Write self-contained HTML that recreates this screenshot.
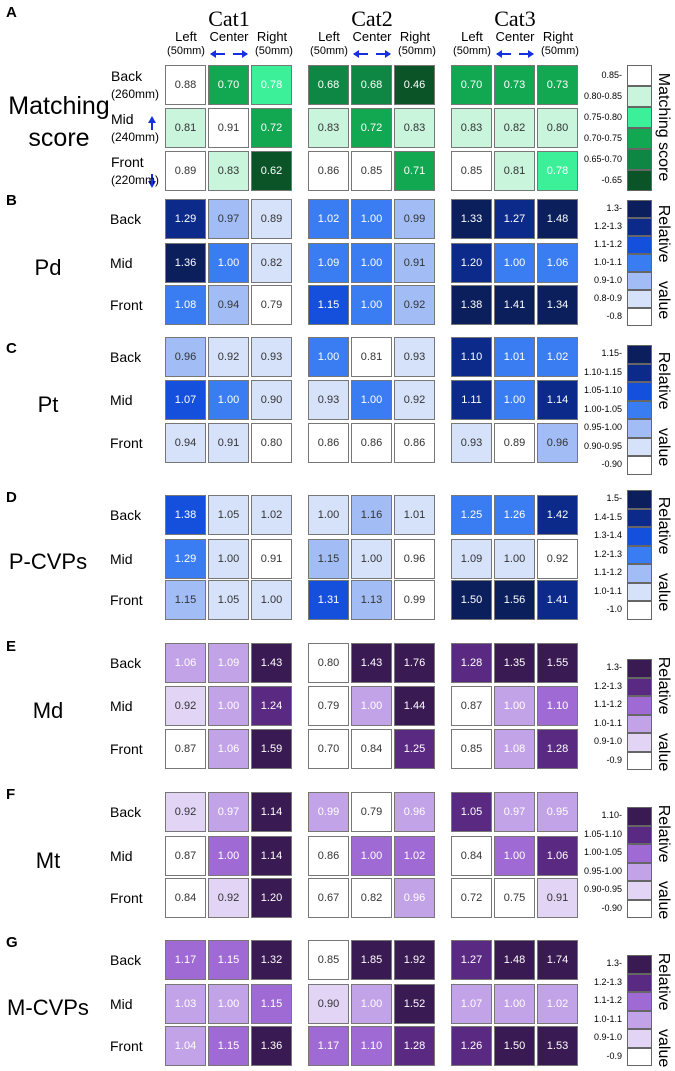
<!DOCTYPE html>
<html><head><meta charset="utf-8"><style>
body{margin:0;background:#fff;}
#c{position:relative;width:675px;height:1071px;font-family:"Liberation Sans",sans-serif;overflow:hidden;}
.a{position:absolute;}
.cell{position:absolute;box-sizing:border-box;border:1px solid #777;font-size:11px;display:flex;align-items:center;justify-content:center;}
.lab{position:absolute;font-size:14px;}
.sl{position:absolute;font-weight:bold;font-size:15px;}
.lt{position:absolute;font-size:9px;text-align:right;width:50px;}
.lb{position:absolute;box-sizing:border-box;border:1px solid #666;}
.rt{position:absolute;font-size:16px;transform:rotate(90deg);transform-origin:center;white-space:nowrap;}
</style></head><body><div id="c"></div>
<script>
const sectionNames=["Matching score","Pd","Pt","P-CVPs","Md","Mt","M-CVPs"];
const sectionLetters=["A","B","C","D","E","F","G"];
const rowNames=["Back","Mid","Front"];
const catNames=["Cat1","Cat2","Cat3"];
const valsA=[[0.88,0.70,0.78,0.68,0.68,0.46,0.70,0.73,0.73],[0.81,0.91,0.72,0.83,0.72,0.83,0.83,0.82,0.80],[0.89,0.83,0.62,0.86,0.85,0.71,0.85,0.81,0.78]];
const valsB=[[1.29,0.97,0.89,1.02,1.00,0.99,1.33,1.27,1.48],[1.36,1.00,0.82,1.09,1.00,0.91,1.20,1.00,1.06],[1.08,0.94,0.79,1.15,1.00,0.92,1.38,1.41,1.34]];
const valsC=[[0.96,0.92,0.93,1.00,0.81,0.93,1.10,1.01,1.02],[1.07,1.00,0.90,0.93,1.00,0.92,1.11,1.00,1.14],[0.94,0.91,0.80,0.86,0.86,0.86,0.93,0.89,0.96]];
const valsD=[[1.38,1.05,1.02,1.00,1.16,1.01,1.25,1.26,1.42],[1.29,1.00,0.91,1.15,1.00,0.96,1.09,1.00,0.92],[1.15,1.05,1.00,1.31,1.13,0.99,1.50,1.56,1.41]];
const valsE=[[1.06,1.09,1.43,0.80,1.43,1.76,1.28,1.35,1.55],[0.92,1.00,1.24,0.79,1.00,1.44,0.87,1.00,1.10],[0.87,1.06,1.59,0.70,0.84,1.25,0.85,1.08,1.28]];
const valsF=[[0.92,0.97,1.14,0.99,0.79,0.96,1.05,0.97,0.95],[0.87,1.00,1.14,0.86,1.00,1.02,0.84,1.00,1.06],[0.84,0.92,1.20,0.67,0.82,0.96,0.72,0.75,0.91]];
const valsG=[[1.17,1.15,1.32,0.85,1.85,1.92,1.27,1.48,1.74],[1.03,1.00,1.15,0.90,1.00,1.52,1.07,1.00,1.02],[1.04,1.15,1.36,1.17,1.10,1.28,1.26,1.50,1.53]];
const thrA=[0.85,0.80,0.75,0.70,0.65];
const thrB=[1.3,1.2,1.1,1.0,0.9,0.8];
const thrC=[1.15,1.10,1.05,1.00,0.95,0.90];
const thrD=[1.5,1.4,1.3,1.2,1.1,1.0];
const thrE=[1.3,1.2,1.1,1.0,0.9];
const thrF=[1.10,1.05,1.00,0.95,0.90];
const legA=["0.85-","0.80-0.85","0.75-0.80","0.70-0.75","0.65-0.70","-0.65"];
const legB=["1.3-","1.2-1.3","1.1-1.2","1.0-1.1","0.9-1.0","0.8-0.9","-0.8"];
const legC=["1.15-","1.10-1.15","1.05-1.10","1.00-1.05","0.95-1.00","0.90-0.95","-0.90"];
const legD=["1.5-","1.4-1.5","1.3-1.4","1.2-1.3","1.1-1.2","1.0-1.1","-1.0"];
const legE=["1.3-","1.2-1.3","1.1-1.2","1.0-1.1","0.9-1.0","-0.9"];
const legF=["1.10-","1.05-1.10","1.00-1.05","0.95-1.00","0.90-0.95","-0.90"];
const green=["#ffffff","#c8f5dc","#3cf09a","#12a851","#0d8743","#0a5428"];
const blue7=["#0a1f5c","#0b2a8a","#1450dc","#3a7cf2","#a2bdf5","#d6e2fa","#ffffff"];
const purple=["#3a1a52","#5a2a82","#a06ad4","#c3a3e8","#e2d4f5","#ffffff"];
const secs=[
 {v:valsA,t:thrA,c:green,l:legA,ty:[65,108,151],lt:65,lh:21,title:"Matching score",wl:2,wh:9},
 {v:valsB,t:thrB,c:blue7,l:legB,ty:[199,243,285],lt:200,lh:18,title:"Relative value",wl:0,wh:3},
 {v:valsC,t:thrC,c:blue7,l:legC,ty:[337,380,423],lt:345,lh:18.5,title:"Relative value",wl:0,wh:3},
 {v:valsD,t:thrD,c:blue7,l:legD,ty:[495,539,580],lt:490,lh:18.5,title:"Relative value",wl:0,wh:3},
 {v:valsE,t:thrE,c:purple,l:legE,ty:[643,686,729],lt:659,lh:18.5,title:"Relative value",wl:0,wh:3},
 {v:valsF,t:thrF,c:purple,l:legF,ty:[792,836,878],lt:807,lh:18.5,title:"Relative value",wl:0,wh:3},
 {v:valsG,t:thrE,c:purple,l:legE,ty:[940,984,1026],lt:955,lh:18.5,title:"Relative value",wl:0,wh:3}
];
const letterY=[4,192,340,489,638,786,934];
const titleY=[90,255,392,549,698,848,995];
const colX=[165,208,251,308,351,394,451,494,537];
const C=document.getElementById('c');
function mk(cls,txt,st){const e=document.createElement('div');e.className=cls;if(txt!==undefined)e.textContent=txt;e.style.cssText=st;C.appendChild(e);return e;}
function bin(v,t){let k=t.length;for(let i=0;i<t.length;i++){if(v>=t[i]){k=i;break;}}return k;}
catNames.forEach((n,i)=>{const e=mk('a',n,`left:${colX[i*3]}px;top:6px;width:128px;text-align:center;font-family:"Liberation Serif",serif;font-size:22px;`);

["Left","Center","Right"].forEach((s,j)=>{const h=mk('a',s,`left:${colX[i*3+j]-4}px;top:29px;width:50px;text-align:center;font-size:13px;`);});
mk('a','(50mm)',`left:${colX[i*3]-4}px;top:45px;width:50px;text-align:center;font-size:11px;`);
mk('a','(50mm)',`left:${colX[i*3+2]-2}px;top:45px;width:50px;text-align:center;font-size:11px;`);
const ar=mk('a','',`left:${colX[i*3+1]+1}px;top:47px;width:40px;height:12px;`);
ar.innerHTML='<svg width="40" height="12"><path d="M2 6H16M24 6H38" stroke="#1530e0" stroke-width="2"/><path d="M1 6L7 2V10Z M39 6L33 2V10Z" fill="#1530e0"/></svg>';

});
const va=mk('a','',`left:147px;top:116px;width:10px;height:72px;`);
va.innerHTML='<svg width="10" height="72"><path d="M5 3V14M5 58V69" stroke="#1530e0" stroke-width="2"/><path d="M5 0L1 7H9Z M5 72L1 65H9Z" fill="#1530e0"/></svg>';

const mm=["(260mm)","(240mm)","(220mm)"];
secs.forEach((s,si)=>{
 const L=mk('sl',sectionLetters[si],`left:6px;top:${letterY[si]}px;`);
 if(si===0){const T=mk('a','',`left:0px;top:${titleY[0]}px;width:118px;text-align:center;font-size:25px;line-height:32px;`);T.innerHTML='Matching<br>score';}
 else{const T=mk('a',sectionNames[si],`left:0px;top:${titleY[si]}px;width:96px;text-align:center;font-size:22px;`);}
 rowNames.forEach((r,ri)=>{
  if(si===0){const R=mk('lab','',`left:111px;top:${s.ty[ri]+3}px;line-height:17px;`);R.innerHTML=r+'<br><span style="font-size:12px">'+mm[ri]+'</span>';}
  else{const R=mk('lab',r,`left:110px;top:${s.ty[ri]+12}px;`);}
  s.v[ri].forEach((v,ci)=>{
   const k=bin(v,s.t);const col=s.c[k];
   const white=k>=s.wl&&k<=s.wh;
   const e=mk('cell',v.toFixed(2),`left:${colX[ci]}px;top:${s.ty[ri]}px;width:41px;height:40px;background:${col};color:${white?'#fff':'#333'};`);
   
  });
 });
 s.l.forEach((t,i)=>{
  const y=s.lt+i*s.lh;
  const b=mk('lb','',`left:627px;top:${y}px;width:25px;height:${s.lh}px;background:${s.c[i]};`);
  
  const x=mk('lt',t,`left:572px;top:${y+s.lh/2-6}px;`);
  
 });
 const h=s.l.length*s.lh;
 const rt=mk('rt',s.title,`left:${663-60}px;top:${s.lt+h/2-10}px;width:120px;text-align:center;word-spacing:${si===0?0:14}px;`);
 
});
</script></body></html>
